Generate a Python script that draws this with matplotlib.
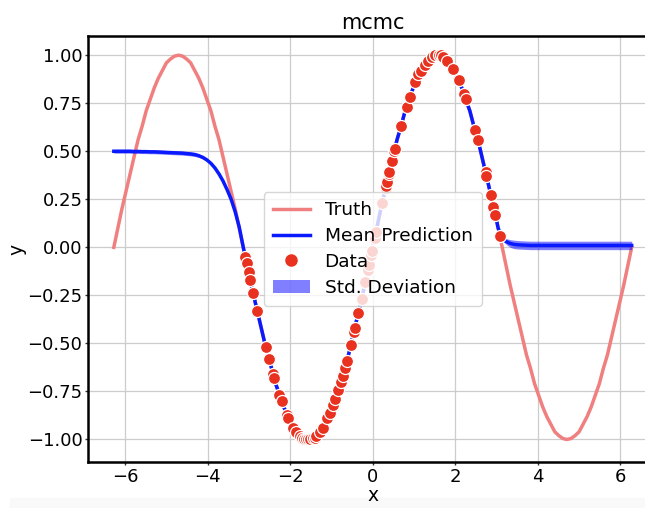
import numpy as np
import matplotlib
matplotlib.use("Agg")
import matplotlib.pyplot as plt
from matplotlib.lines import Line2D
from matplotlib.patches import Patch

# ---- data ----
grid_x = np.linspace(-6.2832, 6.2832, 129)

truth_y = [0.00, 0.10, 0.20, 0.29, 0.38, 0.47, 0.56, 0.63, 0.71, 0.77, 0.83, 0.88, 0.92, 0.96, 0.98, 0.995, 1.00,
           0.995, 0.98, 0.96, 0.92, 0.88, 0.83, 0.77, 0.71, 0.63, 0.56, 0.47, 0.38, 0.29, 0.20, 0.10, 0.00,
           -0.10, -0.20, -0.29, -0.38, -0.47, -0.56, -0.63, -0.71, -0.77, -0.83, -0.88, -0.92, -0.96, -0.98, -0.995, -1.00,
           -0.995, -0.98, -0.96, -0.92, -0.88, -0.83, -0.77, -0.71, -0.63, -0.56, -0.47, -0.38, -0.29, -0.20, -0.10, 0.00,
           0.10, 0.20, 0.29, 0.38, 0.47, 0.56, 0.63, 0.71, 0.77, 0.83, 0.88, 0.92, 0.96, 0.98, 0.995, 1.00,
           0.995, 0.98, 0.96, 0.92, 0.88, 0.83, 0.77, 0.71, 0.63, 0.56, 0.47, 0.38, 0.29, 0.20, 0.10, 0.00,
           -0.10, -0.20, -0.29, -0.38, -0.47, -0.56, -0.63, -0.71, -0.77, -0.83, -0.88, -0.92, -0.96, -0.98, -0.995, -1.00,
           -0.995, -0.98, -0.96, -0.92, -0.88, -0.83, -0.77, -0.71, -0.63, -0.56, -0.47, -0.38, -0.29, -0.20, -0.10, 0.00]

mean_y = [0.500, 0.500, 0.500, 0.500, 0.500, 0.499, 0.499, 0.498, 0.498, 0.497, 0.497, 0.496, 0.495, 0.494, 0.493, 0.492, 0.491,
          0.490, 0.488, 0.486, 0.483, 0.477, 0.468, 0.455, 0.437, 0.413, 0.382, 0.345, 0.300, 0.250, 0.185, 0.105, 0.00,
          -0.10, -0.20, -0.29, -0.38, -0.47, -0.56, -0.63, -0.71, -0.77, -0.83, -0.88, -0.92, -0.96, -0.98, -0.995, -1.00,
          -0.995, -0.98, -0.96, -0.92, -0.88, -0.83, -0.77, -0.71, -0.63, -0.56, -0.47, -0.38, -0.29, -0.20, -0.10, 0.00,
          0.10, 0.20, 0.29, 0.38, 0.47, 0.56, 0.63, 0.71, 0.77, 0.83, 0.88, 0.92, 0.96, 0.98, 0.995, 1.00,
          0.995, 0.98, 0.96, 0.92, 0.88, 0.83, 0.77, 0.71, 0.63, 0.56, 0.47, 0.38, 0.29, 0.20, 0.10, 0.045,
          0.030, 0.020, 0.015, 0.013, 0.012, 0.011, 0.010, 0.010, 0.010, 0.010, 0.010, 0.010, 0.010, 0.010, 0.010, 0.010,
          0.010, 0.010, 0.010, 0.010, 0.010, 0.010, 0.010, 0.010, 0.010, 0.010, 0.010, 0.010, 0.010, 0.010, 0.010, 0.010]

std_y = [0.010, 0.010, 0.010, 0.010, 0.010, 0.010, 0.010, 0.010, 0.010, 0.010, 0.010, 0.010, 0.010, 0.010, 0.010, 0.010, 0.010,
         0.010, 0.010, 0.010, 0.010, 0.009, 0.008, 0.007, 0.006, 0.005, 0.004, 0.003, 0.002, 0.001, 0.0, 0.0, 0.0,
         0.0, 0.0, 0.0, 0.0, 0.0, 0.0, 0.0, 0.0, 0.0, 0.0, 0.0, 0.0, 0.0, 0.0, 0.0, 0.0,
         0.0, 0.0, 0.0, 0.0, 0.0, 0.0, 0.0, 0.0, 0.0, 0.0, 0.0, 0.0, 0.0, 0.0, 0.0, 0.0,
         0.0, 0.0, 0.0, 0.0, 0.0, 0.0, 0.0, 0.0, 0.0, 0.0, 0.0, 0.0, 0.0, 0.0, 0.0, 0.0,
         0.0, 0.0, 0.0, 0.0, 0.0, 0.0, 0.0, 0.0, 0.0, 0.0, 0.0, 0.0, 0.0, 0.0, 0.002, 0.008,
         0.015, 0.020, 0.022, 0.022, 0.022, 0.022, 0.022, 0.022, 0.022, 0.022, 0.022, 0.022, 0.022, 0.022, 0.022, 0.022,
         0.022, 0.022, 0.022, 0.022, 0.022, 0.022, 0.022, 0.022, 0.022, 0.022, 0.022, 0.022, 0.022, 0.022, 0.022, 0.022]

data_x = [-3.09, -3.06, -3.01, -2.97, -2.90, -2.81, -2.60, -2.52, -2.42, -2.40, -2.27, -2.21, -2.09, -2.05,
          -1.93, -1.87, -1.77, -1.72, -1.66, -1.62, -1.57, -1.52, -1.45, -1.40, -1.37, -1.29, -1.21, -1.10,
          -1.03, -0.97, -0.91, -0.84, -0.78, -0.73, -0.68, -0.63, -0.53, -0.46, -0.43, -0.35, -0.27, -0.18,
          -0.12, -0.09, -0.04, -0.02, 0.05, 0.08, 0.23, 0.32, 0.33, 0.35, 0.39, 0.40, 0.47, 0.52, 0.54,
          0.68, 0.82, 0.90, 1.03, 1.11, 1.17, 1.26, 1.34, 1.44, 1.50, 1.60, 1.66, 1.71, 1.81, 1.94, 2.09,
          2.21, 2.27, 2.49, 2.55, 2.74, 2.76, 2.87, 2.93, 2.97, 3.08]
data_y = [-0.05, -0.08, -0.13, -0.17, -0.24, -0.33, -0.52, -0.58, -0.66, -0.68, -0.77, -0.80, -0.87, -0.89,
          -0.94, -0.96, -0.98, -0.99, -1.00, -1.00, -1.00, -1.00, -0.99, -0.99, -0.98, -0.96, -0.94, -0.89,
          -0.86, -0.82, -0.79, -0.74, -0.70, -0.67, -0.63, -0.59, -0.51, -0.44, -0.42, -0.34, -0.27, -0.18,
          -0.12, -0.09, -0.04, -0.02, 0.05, 0.08, 0.23, 0.31, 0.32, 0.34, 0.38, 0.39, 0.45, 0.50, 0.51,
          0.63, 0.73, 0.78, 0.86, 0.90, 0.92, 0.95, 0.97, 0.99, 1.00, 1.00, 1.00, 0.99, 0.97, 0.93, 0.87,
          0.80, 0.77, 0.61, 0.56, 0.39, 0.37, 0.27, 0.21, 0.17, 0.06]

x_ticks = [-6, -4, -2, 0, 2, 4, 6]
y_ticks = [-1.00, -0.75, -0.50, -0.25, 0.00, 0.25, 0.50, 0.75, 1.00]

TRUTH_C = "#f08080"
MEAN_C = "#0a1aff"
DATA_C = "#e8311f"
STD_C = "#0000ff"

fig = plt.figure(figsize=(6.45, 5.08), dpi=100)
fig.patches.append(plt.Rectangle((0.015, 0.0), 0.985, 0.02, transform=fig.transFigure,
                                 color="#f9f9f9", zorder=-10))
ax = fig.add_axes([0.1364, 0.0906, 0.883, 0.8386])

ax.grid(True, color="#cccccc", linewidth=0.9, zorder=0)
ax.set_axisbelow(True)

mean_arr = np.array(mean_y)
std_arr = np.array(std_y)
ax.plot(grid_x, truth_y, color=TRUTH_C, lw=2.5, zorder=2)
ax.fill_between(grid_x, mean_arr - std_arr, mean_arr + std_arr, color=STD_C, alpha=0.5,
                linewidth=0, zorder=3)
ax.plot(grid_x, mean_arr, color=MEAN_C, lw=2.5, zorder=4)
ax.scatter(data_x, data_y, s=75, color=DATA_C, edgecolor="white", linewidth=0.9, zorder=5)

ax.set_xlim(-6.91, 6.91)
ax.set_ylim(-1.117, 1.1)
ax.set_xticks(x_ticks)
ax.set_yticks(y_ticks)
ax.set_xticklabels([str(v).replace("-", "\u2212") for v in x_ticks])
ax.set_yticklabels([f"{v:.2f}".replace("-", "\u2212") for v in y_ticks])
ax.tick_params(labelsize=13, length=2.5, width=1, pad=1.5, color="#333333")

for side in ["left", "top", "bottom"]:
    ax.spines[side].set_linewidth(1.8)
    ax.spines[side].set_color("black")
ax.spines["right"].set_visible(False)

ax.set_xlabel("x", fontsize=13.5, labelpad=0)
ax.set_ylabel("y", fontsize=13.5, labelpad=0.5)
ax.set_title("mcmc", fontsize=15, pad=5)

handles = [Line2D([0], [0], color=TRUTH_C, lw=2.5),
           Line2D([0], [0], color=MEAN_C, lw=2.5),
           Line2D([0], [0], marker="o", color="none", markerfacecolor=DATA_C,
                  markeredgecolor=DATA_C, markersize=8),
           Patch(facecolor=STD_C, alpha=0.5, edgecolor="none")]
labels = ["Truth", "Mean Prediction", "Data", "Std. Deviation"]
leg = ax.legend(handles, labels, loc="center", fontsize=13.3, framealpha=0.8,
                borderpad=0.5, labelspacing=0.42, handlelength=2.0, handletextpad=0.8)
leg.set_zorder(10)

fig.savefig("out.png", dpi=100)
